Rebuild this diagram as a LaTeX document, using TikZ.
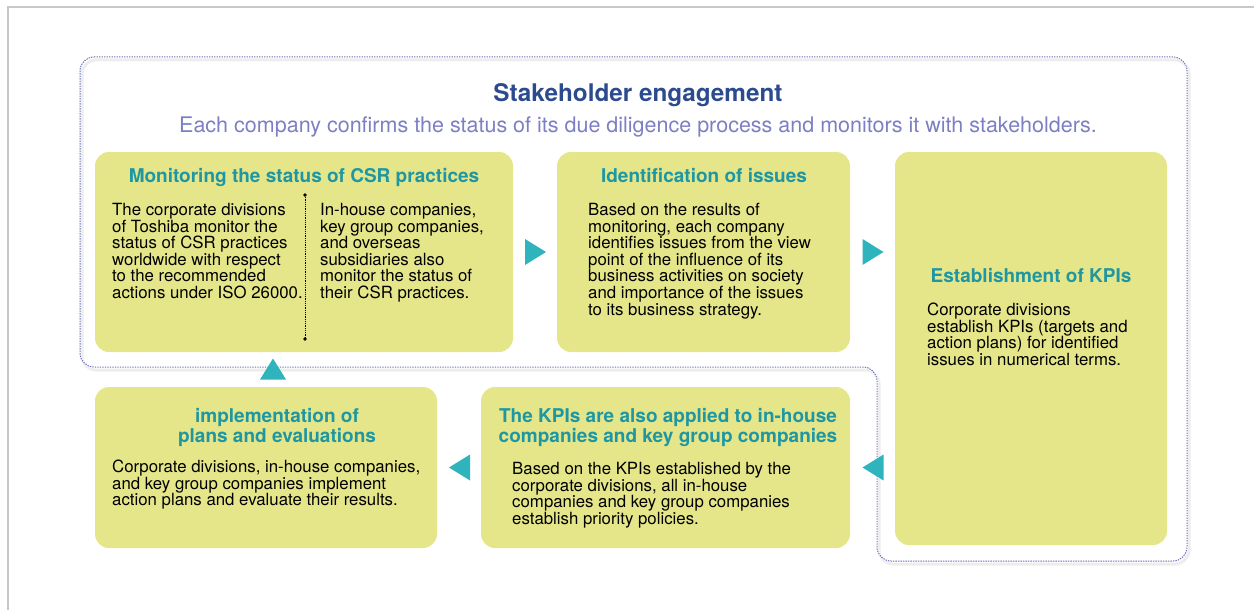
\documentclass[tikz,border=0pt]{standalone}
\usepackage{fontspec}
\setmainfont{TeX Gyre Heros}
\usetikzlibrary{calc}
\definecolor{boxfill}{HTML}{E5E68A}
\definecolor{arrowteal}{HTML}{2FB3BD}
\definecolor{headteal}{HTML}{1F97A2}
\definecolor{titleblue}{HTML}{2C4B8F}
\definecolor{subblue}{HTML}{7C7FC1}
\definecolor{dashblue}{HTML}{6A6FB5}
\definecolor{framegray}{HTML}{C8C8C8}
\begin{document}
\begin{tikzpicture}[x=1pt,y=-1pt,
  box/.style={fill=boxfill, draw=none, rounded corners=14pt, inner sep=0pt, outer sep=0pt},
  head/.style={text=headteal, font=\fontsize{19}{20.5}\selectfont\bfseries, align=center, inner sep=0pt, anchor=north},
  body/.style={text=black, font=\fontsize{16.8}{16.6}\selectfont, align=left, inner sep=0pt, anchor=north west},
  tri/.style={fill=arrowteal, draw=none}
]
\useasboundingbox (0,0) rectangle (1254,610);
% page frame
\draw[framegray, line width=1.5pt] (8,610) -- (8,7) -- (1254,7);
% dashed outline of stakeholder engagement
\draw[black!7, line width=3pt, rounded corners=14pt] (82,60) -- (1189,60) -- (1189,564) -- (879,564) -- (879,370) -- (82,370) -- cycle;
\draw[white, line width=2pt, rounded corners=14pt] (80,57) -- (1187,57) -- (1187,561) -- (877,561) -- (877,367) -- (80,367) -- cycle;
\draw[dashblue, line width=1pt, dash pattern=on 1.4pt off 1.1pt, rounded corners=14pt] (80,57) -- (1187,57) -- (1187,561) -- (877,561) -- (877,367) -- (80,367) -- cycle;
% title
\node[text=titleblue, font=\fontsize{24.3}{26}\selectfont\bfseries, inner sep=0pt, anchor=north] (title) at (638,83) {Stakeholder engagement};
\node[text=subblue, font=\fontsize{21.5}{23}\selectfont, inner sep=0pt, anchor=north] (sub) at (638,117) {Each company confirms the status of its due diligence process and monitors it with stakeholders.};
% boxes
\node[box, minimum width=418, minimum height=200] (b1) at (304,252) {};
\node[box, minimum width=293, minimum height=200] (b2) at (703.5,252) {};
\node[box, minimum width=272, minimum height=393] (b3) at (1031,348.5) {};
\node[box, minimum width=342, minimum height=161] (b4) at (266,467.5) {};
\node[box, minimum width=369, minimum height=161] (b5) at (665.5,467.5) {};
% box 1
\node[head] (h1) at (304,168) {Monitoring the status of CSR practices};
\node[body] (t1a) at (112,203) {The corporate divisions\\of Toshiba monitor the\\status of CSR practices\\worldwide with respect\\to the recommended\\actions under ISO 26000.};
\node[body] (t1b) at (320,203) {In-house companies,\\key group companies,\\and overseas\\subsidiaries also\\monitor the status of\\their CSR practices.};
\coordinate (d1) at (305,195);
\coordinate (d2) at (305,339);
\draw[black, line width=0.9pt, dash pattern=on 0.9pt off 0.9pt] (d1) -- (d2);
\fill (d1) circle (1.8);
\fill (d2) circle (1.8);
% box 2
\node[head] (h2) at (704,168) {Identification of issues};
\node[body] (t2) at (588,203) {Based on the results of\\monitoring, each company\\identifies issues from the view\\point of the influence of its\\business activities on society\\and importance of the issues\\to its business strategy.};
% box 3
\node[head] (h3) at (1031,268) {Establishment of KPIs};
\node[body] (t3) at (927,303) {Corporate divisions\\establish KPIs (targets and\\action plans) for identified\\issues in numerical terms.};
% box 4
\node[head] (h4) at (277,408) {implementation of\\plans and evaluations};
\node[body] (t4) at (112,460) {Corporate divisions, in-house companies,\\and key group companies implement\\action plans and evaluate their results.};
% box 5
\node[head] (h5) at (668,408) {The KPIs are also applied to in-house\\companies and key group companies};
\node[body] (t5) at (512,462) {Based on the KPIs established by the\\corporate divisions, all in-house\\companies and key group companies\\establish priority policies.};
% flow arrows
\coordinate (a1) at ($(b1.east)!0.5!(b2.west)$);
\coordinate (a2) at ($(b2.east)!0.5!(b2.east-|b3.west)$);
\coordinate (a3) at ($(b5.east)!0.5!(b5.east-|b3.west)$);
\coordinate (a4) at ($(b4.east)!0.5!(b5.west)$);
\coordinate (a5) at ($(b4.north)!0.5!(b4.north|-b1.south)+(7,0)$);
\fill[tri] ($(a1)+(-10,-13)$) -- ($(a1)+(11,0)$) -- ($(a1)+(-10,13)$) -- cycle;
\fill[tri] ($(a2)+(-10,-13)$) -- ($(a2)+(11,0)$) -- ($(a2)+(-10,13)$) -- cycle;
\fill[tri] ($(a3)+(11,-13)$) -- ($(a3)+(-10,0)$) -- ($(a3)+(11,13)$) -- cycle;
\fill[tri] ($(a4)+(11,-13)$) -- ($(a4)+(-10,0)$) -- ($(a4)+(11,13)$) -- cycle;
\fill[tri] ($(a5)+(-13,10)$) -- ($(a5)+(0,-11)$) -- ($(a5)+(13,10)$) -- cycle;
\end{tikzpicture}
\end{document}
